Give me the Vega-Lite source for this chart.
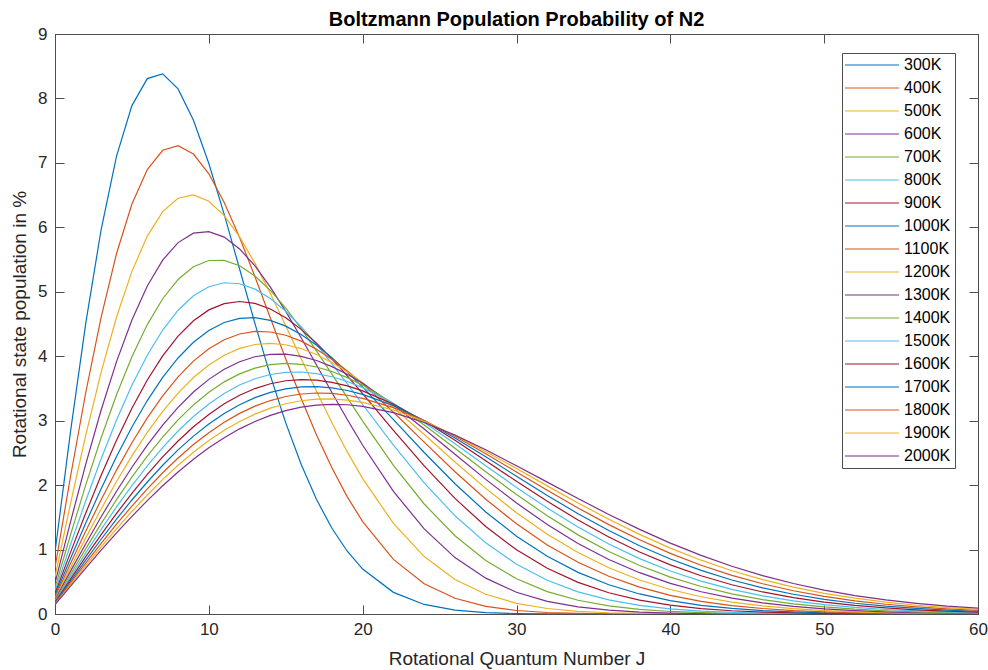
{
  "$schema": "https://vega.github.io/schema/vega-lite/v6.json",
  "autosize": {"type": "none"},
  "width": 923,
  "height": 580,
  "padding": {"left": 55, "top": 34, "right": 10, "bottom": 56},
  "background": "white",
  "title": {
    "text": "Boltzmann Population Probability of N2",
    "font": "Liberation Sans",
    "fontSize": 20,
    "fontWeight": "bold",
    "color": "#000000",
    "anchor": "middle",
    "offset": -5
  },
  "config": {
    "view": {"stroke": "#4d4d4d", "strokeWidth": 1},
    "axis": {
      "grid": false,
      "domainColor": "#4d4d4d",
      "tickColor": "#4d4d4d",
      "tickSize": -9,
      "labelFont": "Liberation Sans",
      "labelFontSize": 17,
      "labelColor": "#262626",
      "labelFlush": false,
      "titleFont": "Liberation Sans",
      "titleFontSize": 19,
      "titleFontWeight": "normal",
      "titleColor": "#262626"
    }
  },
  "datasets": {
    "pop": [
      {"T":300,"J":0,"P":0.956},{"T":300,"J":1,"P":2.814},{"T":300,"J":2,"P":4.514},{"T":300,"J":3,"P":5.966},{"T":300,"J":4,"P":7.104},{"T":300,"J":5,"P":7.889},{"T":300,"J":6,"P":8.308},{"T":300,"J":7,"P":8.382},{"T":300,"J":8,"P":8.148},{"T":300,"J":9,"P":7.662},{"T":300,"J":10,"P":6.990},{"T":300,"J":11,"P":6.200},{"T":300,"J":12,"P":5.354},{"T":300,"J":13,"P":4.505},{"T":300,"J":14,"P":3.699},{"T":300,"J":15,"P":2.965},{"T":300,"J":16,"P":2.323},{"T":300,"J":17,"P":1.778},{"T":300,"J":18,"P":1.331},{"T":300,"J":19,"P":0.974},{"T":300,"J":20,"P":0.697},{"T":300,"J":22,"P":0.336},{"T":300,"J":24,"P":0.148},{"T":300,"J":26,"P":0.0603},{"T":300,"J":28,"P":0.0226},{"T":300,"J":30,"P":0.0078},{"T":300,"J":32,"P":0.0025},{"T":300,"J":34,"P":0.0007},{"T":300,"J":36,"P":0.0002},{"T":300,"J":38,"P":0},{"T":300,"J":40,"P":0},{"T":300,"J":42,"P":0},{"T":300,"J":44,"P":0},{"T":300,"J":46,"P":0},{"T":300,"J":48,"P":0},{"T":300,"J":50,"P":0},{"T":300,"J":52,"P":0},{"T":300,"J":54,"P":0},{"T":300,"J":56,"P":0},{"T":300,"J":58,"P":0},{"T":300,"J":60,"P":0},
      {"T":400,"J":0,"P":0.718},{"T":400,"J":1,"P":2.122},{"T":400,"J":2,"P":3.437},{"T":400,"J":3,"P":4.608},{"T":400,"J":4,"P":5.594},{"T":400,"J":5,"P":6.362},{"T":400,"J":6,"P":6.897},{"T":400,"J":7,"P":7.196},{"T":400,"J":8,"P":7.268},{"T":400,"J":9,"P":7.137},{"T":400,"J":10,"P":6.831},{"T":400,"J":11,"P":6.386},{"T":400,"J":12,"P":5.841},{"T":400,"J":13,"P":5.232},{"T":400,"J":14,"P":4.594},{"T":400,"J":15,"P":3.958},{"T":400,"J":16,"P":3.347},{"T":400,"J":17,"P":2.779},{"T":400,"J":18,"P":2.268},{"T":400,"J":19,"P":1.818},{"T":400,"J":20,"P":1.434},{"T":400,"J":22,"P":0.847},{"T":400,"J":24,"P":0.469},{"T":400,"J":26,"P":0.244},{"T":400,"J":28,"P":0.119},{"T":400,"J":30,"P":0.0544},{"T":400,"J":32,"P":0.0234},{"T":400,"J":34,"P":0.0095},{"T":400,"J":36,"P":0.0036},{"T":400,"J":38,"P":0.0013},{"T":400,"J":40,"P":0.0004},{"T":400,"J":42,"P":0.0001},{"T":400,"J":44,"P":0},{"T":400,"J":46,"P":0},{"T":400,"J":48,"P":0},{"T":400,"J":50,"P":0},{"T":400,"J":52,"P":0},{"T":400,"J":54,"P":0},{"T":400,"J":56,"P":0},{"T":400,"J":58,"P":0},{"T":400,"J":60,"P":0},
      {"T":500,"J":0,"P":0.574},{"T":500,"J":1,"P":1.704},{"T":500,"J":2,"P":2.775},{"T":500,"J":3,"P":3.753},{"T":500,"J":4,"P":4.608},{"T":500,"J":5,"P":5.317},{"T":500,"J":6,"P":5.864},{"T":500,"J":7,"P":6.243},{"T":500,"J":8,"P":6.452},{"T":500,"J":9,"P":6.502},{"T":500,"J":10,"P":6.405},{"T":500,"J":11,"P":6.181},{"T":500,"J":12,"P":5.851},{"T":500,"J":13,"P":5.441},{"T":500,"J":14,"P":4.974},{"T":500,"J":15,"P":4.474},{"T":500,"J":16,"P":3.962},{"T":500,"J":17,"P":3.455},{"T":500,"J":18,"P":2.969},{"T":500,"J":19,"P":2.515},{"T":500,"J":20,"P":2.100},{"T":500,"J":22,"P":1.405},{"T":500,"J":24,"P":0.891},{"T":500,"J":26,"P":0.536},{"T":500,"J":28,"P":0.306},{"T":500,"J":30,"P":0.166},{"T":500,"J":32,"P":0.0857},{"T":500,"J":34,"P":0.0420},{"T":500,"J":36,"P":0.0197},{"T":500,"J":38,"P":0.0087},{"T":500,"J":40,"P":0.0037},{"T":500,"J":42,"P":0.0015},{"T":500,"J":44,"P":0.0006},{"T":500,"J":46,"P":0.0002},{"T":500,"J":48,"P":0},{"T":500,"J":50,"P":0},{"T":500,"J":52,"P":0},{"T":500,"J":54,"P":0},{"T":500,"J":56,"P":0},{"T":500,"J":58,"P":0},{"T":500,"J":60,"P":0},
      {"T":600,"J":0,"P":0.479},{"T":600,"J":1,"P":1.423},{"T":600,"J":2,"P":2.326},{"T":600,"J":3,"P":3.165},{"T":600,"J":4,"P":3.916},{"T":600,"J":5,"P":4.562},{"T":600,"J":6,"P":5.089},{"T":600,"J":7,"P":5.491},{"T":600,"J":8,"P":5.763},{"T":600,"J":9,"P":5.909},{"T":600,"J":10,"P":5.934},{"T":600,"J":11,"P":5.848},{"T":600,"J":12,"P":5.665},{"T":600,"J":13,"P":5.401},{"T":600,"J":14,"P":5.072},{"T":600,"J":15,"P":4.695},{"T":600,"J":16,"P":4.287},{"T":600,"J":17,"P":3.863},{"T":600,"J":18,"P":3.436},{"T":600,"J":19,"P":3.018},{"T":600,"J":20,"P":2.619},{"T":600,"J":22,"P":1.903},{"T":600,"J":24,"P":1.320},{"T":600,"J":26,"P":0.875},{"T":600,"J":28,"P":0.556},{"T":600,"J":30,"P":0.337},{"T":600,"J":32,"P":0.197},{"T":600,"J":34,"P":0.110},{"T":600,"J":36,"P":0.0587},{"T":600,"J":38,"P":0.0302},{"T":600,"J":40,"P":0.0149},{"T":600,"J":42,"P":0.0070},{"T":600,"J":44,"P":0.0032},{"T":600,"J":46,"P":0.0014},{"T":600,"J":48,"P":0.0006},{"T":600,"J":50,"P":0.0002},{"T":600,"J":52,"P":0},{"T":600,"J":54,"P":0},{"T":600,"J":56,"P":0},{"T":600,"J":58,"P":0},{"T":600,"J":60,"P":0},
      {"T":700,"J":0,"P":0.411},{"T":700,"J":1,"P":1.222},{"T":700,"J":2,"P":2.003},{"T":700,"J":3,"P":2.735},{"T":700,"J":4,"P":3.403},{"T":700,"J":5,"P":3.992},{"T":700,"J":6,"P":4.491},{"T":700,"J":7,"P":4.892},{"T":700,"J":8,"P":5.191},{"T":700,"J":9,"P":5.388},{"T":700,"J":10,"P":5.485},{"T":700,"J":11,"P":5.488},{"T":700,"J":12,"P":5.405},{"T":700,"J":13,"P":5.245},{"T":700,"J":14,"P":5.021},{"T":700,"J":15,"P":4.745},{"T":700,"J":16,"P":4.428},{"T":700,"J":17,"P":4.084},{"T":700,"J":18,"P":3.723},{"T":700,"J":19,"P":3.357},{"T":700,"J":20,"P":2.994},{"T":700,"J":22,"P":2.307},{"T":700,"J":24,"P":1.707},{"T":700,"J":26,"P":1.214},{"T":700,"J":28,"P":0.831},{"T":700,"J":30,"P":0.547},{"T":700,"J":32,"P":0.347},{"T":700,"J":34,"P":0.213},{"T":700,"J":36,"P":0.125},{"T":700,"J":38,"P":0.0714},{"T":700,"J":40,"P":0.0392},{"T":700,"J":42,"P":0.0208},{"T":700,"J":44,"P":0.0107},{"T":700,"J":46,"P":0.0053},{"T":700,"J":48,"P":0.0025},{"T":700,"J":50,"P":0.0012},{"T":700,"J":52,"P":0.0005},{"T":700,"J":54,"P":0.0002},{"T":700,"J":56,"P":0},{"T":700,"J":58,"P":0},{"T":700,"J":60,"P":0},
      {"T":800,"J":0,"P":0.359},{"T":800,"J":1,"P":1.070},{"T":800,"J":2,"P":1.758},{"T":800,"J":3,"P":2.409},{"T":800,"J":4,"P":3.009},{"T":800,"J":5,"P":3.548},{"T":800,"J":6,"P":4.016},{"T":800,"J":7,"P":4.406},{"T":800,"J":8,"P":4.714},{"T":800,"J":9,"P":4.938},{"T":800,"J":10,"P":5.079},{"T":800,"J":11,"P":5.140},{"T":800,"J":12,"P":5.125},{"T":800,"J":13,"P":5.041},{"T":800,"J":14,"P":4.895},{"T":800,"J":15,"P":4.697},{"T":800,"J":16,"P":4.457},{"T":800,"J":17,"P":4.183},{"T":800,"J":18,"P":3.885},{"T":800,"J":19,"P":3.572},{"T":800,"J":20,"P":3.251},{"T":800,"J":22,"P":2.619},{"T":800,"J":24,"P":2.034},{"T":800,"J":26,"P":1.524},{"T":800,"J":28,"P":1.104},{"T":800,"J":30,"P":0.773},{"T":800,"J":32,"P":0.523},{"T":800,"J":34,"P":0.343},{"T":800,"J":36,"P":0.218},{"T":800,"J":38,"P":0.134},{"T":800,"J":40,"P":0.0798},{"T":800,"J":42,"P":0.0461},{"T":800,"J":44,"P":0.0258},{"T":800,"J":46,"P":0.0140},{"T":800,"J":48,"P":0.0074},{"T":800,"J":50,"P":0.0038},{"T":800,"J":52,"P":0.0019},{"T":800,"J":54,"P":0.0009},{"T":800,"J":56,"P":0.0004},{"T":800,"J":58,"P":0.0002},{"T":800,"J":60,"P":0.0001},
      {"T":900,"J":0,"P":0.319},{"T":900,"J":1,"P":0.952},{"T":900,"J":2,"P":1.567},{"T":900,"J":3,"P":2.152},{"T":900,"J":4,"P":2.697},{"T":900,"J":5,"P":3.192},{"T":900,"J":6,"P":3.631},{"T":900,"J":7,"P":4.006},{"T":900,"J":8,"P":4.313},{"T":900,"J":9,"P":4.551},{"T":900,"J":10,"P":4.719},{"T":900,"J":11,"P":4.817},{"T":900,"J":12,"P":4.849},{"T":900,"J":13,"P":4.819},{"T":900,"J":14,"P":4.733},{"T":900,"J":15,"P":4.597},{"T":900,"J":16,"P":4.417},{"T":900,"J":17,"P":4.202},{"T":900,"J":18,"P":3.959},{"T":900,"J":19,"P":3.696},{"T":900,"J":20,"P":3.419},{"T":900,"J":22,"P":2.851},{"T":900,"J":24,"P":2.298},{"T":900,"J":26,"P":1.794},{"T":900,"J":28,"P":1.357},{"T":900,"J":30,"P":0.996},{"T":900,"J":32,"P":0.709},{"T":900,"J":34,"P":0.491},{"T":900,"J":36,"P":0.330},{"T":900,"J":38,"P":0.215},{"T":900,"J":40,"P":0.137},{"T":900,"J":42,"P":0.0843},{"T":900,"J":44,"P":0.0506},{"T":900,"J":46,"P":0.0295},{"T":900,"J":48,"P":0.0168},{"T":900,"J":50,"P":0.0093},{"T":900,"J":52,"P":0.0050},{"T":900,"J":54,"P":0.0026},{"T":900,"J":56,"P":0.0013},{"T":900,"J":58,"P":0.0007},{"T":900,"J":60,"P":0.0003},
      {"T":1000,"J":0,"P":0.288},{"T":1000,"J":1,"P":0.858},{"T":1000,"J":2,"P":1.413},{"T":1000,"J":3,"P":1.944},{"T":1000,"J":4,"P":2.443},{"T":1000,"J":5,"P":2.901},{"T":1000,"J":6,"P":3.312},{"T":1000,"J":7,"P":3.671},{"T":1000,"J":8,"P":3.973},{"T":1000,"J":9,"P":4.216},{"T":1000,"J":10,"P":4.399},{"T":1000,"J":11,"P":4.523},{"T":1000,"J":12,"P":4.588},{"T":1000,"J":13,"P":4.598},{"T":1000,"J":14,"P":4.556},{"T":1000,"J":15,"P":4.467},{"T":1000,"J":16,"P":4.337},{"T":1000,"J":17,"P":4.171},{"T":1000,"J":18,"P":3.976},{"T":1000,"J":19,"P":3.757},{"T":1000,"J":20,"P":3.520},{"T":1000,"J":22,"P":3.016},{"T":1000,"J":24,"P":2.506},{"T":1000,"J":26,"P":2.021},{"T":1000,"J":28,"P":1.584},{"T":1000,"J":30,"P":1.207},{"T":1000,"J":32,"P":0.895},{"T":1000,"J":34,"P":0.646},{"T":1000,"J":36,"P":0.454},{"T":1000,"J":38,"P":0.311},{"T":1000,"J":40,"P":0.208},{"T":1000,"J":42,"P":0.135},{"T":1000,"J":44,"P":0.0858},{"T":1000,"J":46,"P":0.0531},{"T":1000,"J":48,"P":0.0321},{"T":1000,"J":50,"P":0.0189},{"T":1000,"J":52,"P":0.0109},{"T":1000,"J":54,"P":0.0061},{"T":1000,"J":56,"P":0.0033},{"T":1000,"J":58,"P":0.0018},{"T":1000,"J":60,"P":0.0009},
      {"T":1100,"J":0,"P":0.261},{"T":1100,"J":1,"P":0.780},{"T":1100,"J":2,"P":1.287},{"T":1100,"J":3,"P":1.773},{"T":1100,"J":4,"P":2.233},{"T":1100,"J":5,"P":2.658},{"T":1100,"J":6,"P":3.044},{"T":1100,"J":7,"P":3.386},{"T":1100,"J":8,"P":3.681},{"T":1100,"J":9,"P":3.924},{"T":1100,"J":10,"P":4.117},{"T":1100,"J":11,"P":4.256},{"T":1100,"J":12,"P":4.345},{"T":1100,"J":13,"P":4.384},{"T":1100,"J":14,"P":4.376},{"T":1100,"J":15,"P":4.325},{"T":1100,"J":16,"P":4.234},{"T":1100,"J":17,"P":4.109},{"T":1100,"J":18,"P":3.953},{"T":1100,"J":19,"P":3.772},{"T":1100,"J":20,"P":3.572},{"T":1100,"J":22,"P":3.130},{"T":1100,"J":24,"P":2.666},{"T":1100,"J":26,"P":2.208},{"T":1100,"J":28,"P":1.781},{"T":1100,"J":30,"P":1.399},{"T":1100,"J":32,"P":1.072},{"T":1100,"J":34,"P":0.802},{"T":1100,"J":36,"P":0.585},{"T":1100,"J":38,"P":0.417},{"T":1100,"J":40,"P":0.290},{"T":1100,"J":42,"P":0.197},{"T":1100,"J":44,"P":0.131},{"T":1100,"J":46,"P":0.0850},{"T":1100,"J":48,"P":0.0539},{"T":1100,"J":50,"P":0.0334},{"T":1100,"J":52,"P":0.0203},{"T":1100,"J":54,"P":0.0120},{"T":1100,"J":56,"P":0.0070},{"T":1100,"J":58,"P":0.0040},{"T":1100,"J":60,"P":0.0022},
      {"T":1200,"J":0,"P":0.240},{"T":1200,"J":1,"P":0.715},{"T":1200,"J":2,"P":1.181},{"T":1200,"J":3,"P":1.630},{"T":1200,"J":4,"P":2.056},{"T":1200,"J":5,"P":2.453},{"T":1200,"J":6,"P":2.817},{"T":1200,"J":7,"P":3.143},{"T":1200,"J":8,"P":3.428},{"T":1200,"J":9,"P":3.669},{"T":1200,"J":10,"P":3.865},{"T":1200,"J":11,"P":4.016},{"T":1200,"J":12,"P":4.121},{"T":1200,"J":13,"P":4.182},{"T":1200,"J":14,"P":4.200},{"T":1200,"J":15,"P":4.178},{"T":1200,"J":16,"P":4.119},{"T":1200,"J":17,"P":4.026},{"T":1200,"J":18,"P":3.904},{"T":1200,"J":19,"P":3.757},{"T":1200,"J":20,"P":3.588},{"T":1200,"J":22,"P":3.204},{"T":1200,"J":24,"P":2.785},{"T":1200,"J":26,"P":2.359},{"T":1200,"J":28,"P":1.949},{"T":1200,"J":30,"P":1.571},{"T":1200,"J":32,"P":1.238},{"T":1200,"J":34,"P":0.953},{"T":1200,"J":36,"P":0.717},{"T":1200,"J":38,"P":0.528},{"T":1200,"J":40,"P":0.380},{"T":1200,"J":42,"P":0.268},{"T":1200,"J":44,"P":0.185},{"T":1200,"J":46,"P":0.125},{"T":1200,"J":48,"P":0.0826},{"T":1200,"J":50,"P":0.0535},{"T":1200,"J":52,"P":0.0339},{"T":1200,"J":54,"P":0.0211},{"T":1200,"J":56,"P":0.0128},{"T":1200,"J":58,"P":0.0077},{"T":1200,"J":60,"P":0.0045},
      {"T":1300,"J":0,"P":0.221},{"T":1300,"J":1,"P":0.661},{"T":1300,"J":2,"P":1.091},{"T":1300,"J":3,"P":1.508},{"T":1300,"J":4,"P":1.905},{"T":1300,"J":5,"P":2.277},{"T":1300,"J":6,"P":2.620},{"T":1300,"J":7,"P":2.931},{"T":1300,"J":8,"P":3.206},{"T":1300,"J":9,"P":3.444},{"T":1300,"J":10,"P":3.641},{"T":1300,"J":11,"P":3.799},{"T":1300,"J":12,"P":3.915},{"T":1300,"J":13,"P":3.992},{"T":1300,"J":14,"P":4.030},{"T":1300,"J":15,"P":4.031},{"T":1300,"J":16,"P":3.998},{"T":1300,"J":17,"P":3.933},{"T":1300,"J":18,"P":3.839},{"T":1300,"J":19,"P":3.720},{"T":1300,"J":20,"P":3.579},{"T":1300,"J":22,"P":3.248},{"T":1300,"J":24,"P":2.872},{"T":1300,"J":26,"P":2.478},{"T":1300,"J":28,"P":2.089},{"T":1300,"J":30,"P":1.722},{"T":1300,"J":32,"P":1.388},{"T":1300,"J":34,"P":1.095},{"T":1300,"J":36,"P":0.846},{"T":1300,"J":38,"P":0.641},{"T":1300,"J":40,"P":0.475},{"T":1300,"J":42,"P":0.345},{"T":1300,"J":44,"P":0.246},{"T":1300,"J":46,"P":0.172},{"T":1300,"J":48,"P":0.118},{"T":1300,"J":50,"P":0.0790},{"T":1300,"J":52,"P":0.0521},{"T":1300,"J":54,"P":0.0337},{"T":1300,"J":56,"P":0.0213},{"T":1300,"J":58,"P":0.0133},{"T":1300,"J":60,"P":0.0081},
      {"T":1400,"J":0,"P":0.205},{"T":1400,"J":1,"P":0.614},{"T":1400,"J":2,"P":1.014},{"T":1400,"J":3,"P":1.403},{"T":1400,"J":4,"P":1.774},{"T":1400,"J":5,"P":2.124},{"T":1400,"J":6,"P":2.449},{"T":1400,"J":7,"P":2.746},{"T":1400,"J":8,"P":3.012},{"T":1400,"J":9,"P":3.244},{"T":1400,"J":10,"P":3.441},{"T":1400,"J":11,"P":3.602},{"T":1400,"J":12,"P":3.726},{"T":1400,"J":13,"P":3.815},{"T":1400,"J":14,"P":3.869},{"T":1400,"J":15,"P":3.888},{"T":1400,"J":16,"P":3.875},{"T":1400,"J":17,"P":3.833},{"T":1400,"J":18,"P":3.763},{"T":1400,"J":19,"P":3.668},{"T":1400,"J":20,"P":3.552},{"T":1400,"J":22,"P":3.267},{"T":1400,"J":24,"P":2.932},{"T":1400,"J":26,"P":2.572},{"T":1400,"J":28,"P":2.206},{"T":1400,"J":30,"P":1.853},{"T":1400,"J":32,"P":1.524},{"T":1400,"J":34,"P":1.228},{"T":1400,"J":36,"P":0.970},{"T":1400,"J":38,"P":0.752},{"T":1400,"J":40,"P":0.572},{"T":1400,"J":42,"P":0.427},{"T":1400,"J":44,"P":0.312},{"T":1400,"J":46,"P":0.224},{"T":1400,"J":48,"P":0.158},{"T":1400,"J":50,"P":0.110},{"T":1400,"J":52,"P":0.0747},{"T":1400,"J":54,"P":0.0500},{"T":1400,"J":56,"P":0.0328},{"T":1400,"J":58,"P":0.0212},{"T":1400,"J":60,"P":0.0134},
      {"T":1500,"J":0,"P":0.192},{"T":1500,"J":1,"P":0.573},{"T":1500,"J":2,"P":0.948},{"T":1500,"J":3,"P":1.312},{"T":1500,"J":4,"P":1.661},{"T":1500,"J":5,"P":1.991},{"T":1500,"J":6,"P":2.300},{"T":1500,"J":7,"P":2.583},{"T":1500,"J":8,"P":2.839},{"T":1500,"J":9,"P":3.065},{"T":1500,"J":10,"P":3.260},{"T":1500,"J":11,"P":3.423},{"T":1500,"J":12,"P":3.553},{"T":1500,"J":13,"P":3.651},{"T":1500,"J":14,"P":3.716},{"T":1500,"J":15,"P":3.750},{"T":1500,"J":16,"P":3.755},{"T":1500,"J":17,"P":3.731},{"T":1500,"J":18,"P":3.681},{"T":1500,"J":19,"P":3.607},{"T":1500,"J":20,"P":3.512},{"T":1500,"J":22,"P":3.268},{"T":1500,"J":24,"P":2.971},{"T":1500,"J":26,"P":2.643},{"T":1500,"J":28,"P":2.301},{"T":1500,"J":30,"P":1.964},{"T":1500,"J":32,"P":1.644},{"T":1500,"J":34,"P":1.349},{"T":1500,"J":36,"P":1.087},{"T":1500,"J":38,"P":0.860},{"T":1500,"J":40,"P":0.668},{"T":1500,"J":42,"P":0.510},{"T":1500,"J":44,"P":0.382},{"T":1500,"J":46,"P":0.282},{"T":1500,"J":48,"P":0.204},{"T":1500,"J":50,"P":0.145},{"T":1500,"J":52,"P":0.102},{"T":1500,"J":54,"P":0.0701},{"T":1500,"J":56,"P":0.0475},{"T":1500,"J":58,"P":0.0316},{"T":1500,"J":60,"P":0.0207},
      {"T":1600,"J":0,"P":0.180},{"T":1600,"J":1,"P":0.537},{"T":1600,"J":2,"P":0.889},{"T":1600,"J":3,"P":1.231},{"T":1600,"J":4,"P":1.561},{"T":1600,"J":5,"P":1.873},{"T":1600,"J":6,"P":2.167},{"T":1600,"J":7,"P":2.438},{"T":1600,"J":8,"P":2.685},{"T":1600,"J":9,"P":2.905},{"T":1600,"J":10,"P":3.097},{"T":1600,"J":11,"P":3.261},{"T":1600,"J":12,"P":3.394},{"T":1600,"J":13,"P":3.498},{"T":1600,"J":14,"P":3.573},{"T":1600,"J":15,"P":3.619},{"T":1600,"J":16,"P":3.637},{"T":1600,"J":17,"P":3.628},{"T":1600,"J":18,"P":3.595},{"T":1600,"J":19,"P":3.539},{"T":1600,"J":20,"P":3.462},{"T":1600,"J":22,"P":3.256},{"T":1600,"J":24,"P":2.994},{"T":1600,"J":26,"P":2.695},{"T":1600,"J":28,"P":2.378},{"T":1600,"J":30,"P":2.059},{"T":1600,"J":32,"P":1.749},{"T":1600,"J":34,"P":1.459},{"T":1600,"J":36,"P":1.195},{"T":1600,"J":38,"P":0.963},{"T":1600,"J":40,"P":0.762},{"T":1600,"J":42,"P":0.594},{"T":1600,"J":44,"P":0.454},{"T":1600,"J":46,"P":0.342},{"T":1600,"J":48,"P":0.254},{"T":1600,"J":50,"P":0.185},{"T":1600,"J":52,"P":0.133},{"T":1600,"J":54,"P":0.0938},{"T":1600,"J":56,"P":0.0652},{"T":1600,"J":58,"P":0.0447},{"T":1600,"J":60,"P":0.0301},
      {"T":1700,"J":0,"P":0.169},{"T":1700,"J":1,"P":0.506},{"T":1700,"J":2,"P":0.837},{"T":1700,"J":3,"P":1.160},{"T":1700,"J":4,"P":1.472},{"T":1700,"J":5,"P":1.769},{"T":1700,"J":6,"P":2.048},{"T":1700,"J":7,"P":2.308},{"T":1700,"J":8,"P":2.546},{"T":1700,"J":9,"P":2.760},{"T":1700,"J":10,"P":2.949},{"T":1700,"J":11,"P":3.112},{"T":1700,"J":12,"P":3.248},{"T":1700,"J":13,"P":3.357},{"T":1700,"J":14,"P":3.438},{"T":1700,"J":15,"P":3.494},{"T":1700,"J":16,"P":3.523},{"T":1700,"J":17,"P":3.527},{"T":1700,"J":18,"P":3.508},{"T":1700,"J":19,"P":3.468},{"T":1700,"J":20,"P":3.407},{"T":1700,"J":22,"P":3.233},{"T":1700,"J":24,"P":3.002},{"T":1700,"J":26,"P":2.732},{"T":1700,"J":28,"P":2.439},{"T":1700,"J":30,"P":2.138},{"T":1700,"J":32,"P":1.840},{"T":1700,"J":34,"P":1.557},{"T":1700,"J":36,"P":1.295},{"T":1700,"J":38,"P":1.060},{"T":1700,"J":40,"P":0.853},{"T":1700,"J":42,"P":0.676},{"T":1700,"J":44,"P":0.527},{"T":1700,"J":46,"P":0.405},{"T":1700,"J":48,"P":0.306},{"T":1700,"J":50,"P":0.228},{"T":1700,"J":52,"P":0.167},{"T":1700,"J":54,"P":0.121},{"T":1700,"J":56,"P":0.0860},{"T":1700,"J":58,"P":0.0603},{"T":1700,"J":60,"P":0.0417},
      {"T":1800,"J":0,"P":0.160},{"T":1800,"J":1,"P":0.478},{"T":1800,"J":2,"P":0.791},{"T":1800,"J":3,"P":1.097},{"T":1800,"J":4,"P":1.393},{"T":1800,"J":5,"P":1.675},{"T":1800,"J":6,"P":1.942},{"T":1800,"J":7,"P":2.192},{"T":1800,"J":8,"P":2.421},{"T":1800,"J":9,"P":2.629},{"T":1800,"J":10,"P":2.814},{"T":1800,"J":11,"P":2.976},{"T":1800,"J":12,"P":3.113},{"T":1800,"J":13,"P":3.225},{"T":1800,"J":14,"P":3.312},{"T":1800,"J":15,"P":3.375},{"T":1800,"J":16,"P":3.414},{"T":1800,"J":17,"P":3.429},{"T":1800,"J":18,"P":3.422},{"T":1800,"J":19,"P":3.394},{"T":1800,"J":20,"P":3.347},{"T":1800,"J":22,"P":3.202},{"T":1800,"J":24,"P":3.000},{"T":1800,"J":26,"P":2.757},{"T":1800,"J":28,"P":2.487},{"T":1800,"J":30,"P":2.204},{"T":1800,"J":32,"P":1.920},{"T":1800,"J":34,"P":1.645},{"T":1800,"J":36,"P":1.387},{"T":1800,"J":38,"P":1.151},{"T":1800,"J":40,"P":0.941},{"T":1800,"J":42,"P":0.757},{"T":1800,"J":44,"P":0.600},{"T":1800,"J":46,"P":0.469},{"T":1800,"J":48,"P":0.361},{"T":1800,"J":50,"P":0.274},{"T":1800,"J":52,"P":0.205},{"T":1800,"J":54,"P":0.151},{"T":1800,"J":56,"P":0.110},{"T":1800,"J":58,"P":0.0787},{"T":1800,"J":60,"P":0.0556},
      {"T":1900,"J":0,"P":0.151},{"T":1900,"J":1,"P":0.453},{"T":1900,"J":2,"P":0.750},{"T":1900,"J":3,"P":1.041},{"T":1900,"J":4,"P":1.322},{"T":1900,"J":5,"P":1.591},{"T":1900,"J":6,"P":1.847},{"T":1900,"J":7,"P":2.086},{"T":1900,"J":8,"P":2.308},{"T":1900,"J":9,"P":2.510},{"T":1900,"J":10,"P":2.691},{"T":1900,"J":11,"P":2.851},{"T":1900,"J":12,"P":2.988},{"T":1900,"J":13,"P":3.102},{"T":1900,"J":14,"P":3.194},{"T":1900,"J":15,"P":3.263},{"T":1900,"J":16,"P":3.309},{"T":1900,"J":17,"P":3.333},{"T":1900,"J":18,"P":3.337},{"T":1900,"J":19,"P":3.320},{"T":1900,"J":20,"P":3.285},{"T":1900,"J":22,"P":3.166},{"T":1900,"J":24,"P":2.990},{"T":1900,"J":26,"P":2.771},{"T":1900,"J":28,"P":2.522},{"T":1900,"J":30,"P":2.258},{"T":1900,"J":32,"P":1.988},{"T":1900,"J":34,"P":1.723},{"T":1900,"J":36,"P":1.470},{"T":1900,"J":38,"P":1.235},{"T":1900,"J":40,"P":1.023},{"T":1900,"J":42,"P":0.835},{"T":1900,"J":44,"P":0.671},{"T":1900,"J":46,"P":0.533},{"T":1900,"J":48,"P":0.417},{"T":1900,"J":50,"P":0.321},{"T":1900,"J":52,"P":0.245},{"T":1900,"J":54,"P":0.184},{"T":1900,"J":56,"P":0.136},{"T":1900,"J":58,"P":0.0994},{"T":1900,"J":60,"P":0.0717},
      {"T":2000,"J":0,"P":0.144},{"T":2000,"J":1,"P":0.430},{"T":2000,"J":2,"P":0.713},{"T":2000,"J":3,"P":0.990},{"T":2000,"J":4,"P":1.258},{"T":2000,"J":5,"P":1.515},{"T":2000,"J":6,"P":1.760},{"T":2000,"J":7,"P":1.990},{"T":2000,"J":8,"P":2.204},{"T":2000,"J":9,"P":2.401},{"T":2000,"J":10,"P":2.578},{"T":2000,"J":11,"P":2.736},{"T":2000,"J":12,"P":2.873},{"T":2000,"J":13,"P":2.988},{"T":2000,"J":14,"P":3.083},{"T":2000,"J":15,"P":3.156},{"T":2000,"J":16,"P":3.209},{"T":2000,"J":17,"P":3.241},{"T":2000,"J":18,"P":3.253},{"T":2000,"J":19,"P":3.247},{"T":2000,"J":20,"P":3.222},{"T":2000,"J":22,"P":3.125},{"T":2000,"J":24,"P":2.972},{"T":2000,"J":26,"P":2.776},{"T":2000,"J":28,"P":2.548},{"T":2000,"J":30,"P":2.301},{"T":2000,"J":32,"P":2.046},{"T":2000,"J":34,"P":1.791},{"T":2000,"J":36,"P":1.544},{"T":2000,"J":38,"P":1.313},{"T":2000,"J":40,"P":1.100},{"T":2000,"J":42,"P":0.909},{"T":2000,"J":44,"P":0.741},{"T":2000,"J":46,"P":0.596},{"T":2000,"J":48,"P":0.473},{"T":2000,"J":50,"P":0.370},{"T":2000,"J":52,"P":0.286},{"T":2000,"J":54,"P":0.218},{"T":2000,"J":56,"P":0.165},{"T":2000,"J":58,"P":0.122},{"T":2000,"J":60,"P":0.0898}
    ]
  },
  "data": {"name": "pop"},
  "layer": [
    {
      "mark": {"type": "line", "strokeWidth": 1.2, "clip": true},
      "encoding": {
        "x": {
          "field": "J",
          "type": "quantitative",
          "scale": {"domain": [0, 60], "nice": false, "zero": false},
          "axis": {
            "orient": "bottom",
            "values": [0, 10, 20, 30, 40, 50, 60],
            "format": "d",
            "labelPadding": 16,
            "title": "Rotational Quantum Number J",
            "titlePadding": 12
          }
        },
        "y": {
          "field": "P",
          "type": "quantitative",
          "scale": {"domain": [0, 9], "nice": false},
          "axis": {
            "orient": "left",
            "values": [0, 1, 2, 3, 4, 5, 6, 7, 8, 9],
            "format": "d",
            "labelPadding": 17,
            "title": "Rotational state population in %",
            "titlePadding": 8
          }
        },
        "color": {
          "field": "T",
          "type": "nominal",
          "scale": {
            "domain": [300, 400, 500, 600, 700, 800, 900, 1000, 1100, 1200, 1300, 1400, 1500, 1600, 1700, 1800, 1900, 2000],
            "range": ["#0072BD", "#D95319", "#EDB120", "#7E2F8E", "#77AC30", "#4DBEEE", "#A2142F", "#0072BD", "#D95319", "#EDB120", "#7E2F8E", "#77AC30", "#4DBEEE", "#A2142F", "#0072BD", "#D95319", "#EDB120", "#7E2F8E"]
          },
          "legend": {
            "title": null,
            "orient": "none",
            "legendX": 787,
            "legendY": 19,
            "direction": "vertical",
            "fillColor": "white",
            "strokeColor": "#4d4d4d",
            "padding": 4,
            "labelExpr": "datum.label + 'K'",
            "labelFont": "Liberation Sans",
            "labelFontSize": 16,
            "labelColor": "#000000",
            "symbolType": "M-4,0H4",
            "symbolSize": 182,
            "symbolStrokeWidth": 1.2,
            "symbolOffset": 18,
            "labelOffset": 24,
            "rowPadding": 7
          }
        }
      }
    },
    {
      "mark": {"type": "line", "opacity": 0},
      "encoding": {
        "x": {
          "field": "J",
          "type": "quantitative",
          "axis": {"orient": "top", "values": [0, 10, 20, 30, 40, 50, 60], "labels": false, "title": null}
        },
        "y": {
          "field": "P",
          "type": "quantitative",
          "axis": {"orient": "right", "values": [0, 1, 2, 3, 4, 5, 6, 7, 8, 9], "labels": false, "title": null}
        },
        "detail": {"field": "T", "type": "nominal"}
      }
    }
  ],
  "resolve": {"axis": {"x": "independent", "y": "independent"}}
}
